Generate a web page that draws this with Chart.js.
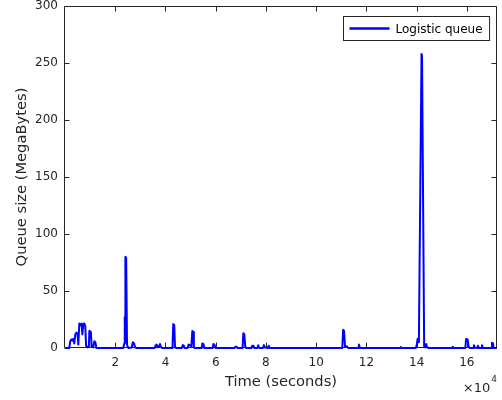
<!DOCTYPE html>
<html>
<head>
<meta charset="utf-8">
<script src="https://cdn.jsdelivr.net/npm/chart.js@4.4.1/dist/chart.umd.min.js"></script>
<style>
  html, body { margin: 0; padding: 0; background: #fff; }
  #wrap { width: 502px; height: 400px; position: relative; }
</style>
</head>
<body>
<div id="wrap"><canvas id="queue-chart"></canvas></div>
<script>
// Logistic queue size (MB) against time (s)
var timeSec = [
    0, 1700, 2100, 2500, 2900, 3300, 3700, 4100, 4600, 5000, 5300, 5700, 6200, 6600, 6900,
    7300, 7700, 8070, 8400, 9000, 9500, 9700, 10300, 10600, 11200, 11700, 12100, 12500,
    23200, 23600, 23800, 23900, 24050, 24350, 24700, 25200,
    26600, 27000, 27500, 27900, 28500,
    35700, 36000, 36500, 36900, 37400, 37800, 38300, 38800,
    42800, 43100, 43500, 43800, 44400,
    46500, 46900, 47300, 47700,
    48800, 49200, 49700, 50300, 50700, 51000, 51300, 51800,
    54400, 54700, 55100, 55500,
    58800, 59100, 59500, 59900,
    67500, 67800, 68300, 68700,
    70700, 71000, 71400, 71800, 72300,
    74200, 74600, 75000, 75400,
    76600, 76900, 77300,
    78800, 79200, 79600,
    80800, 81100, 81500,
    110400, 110750, 111100, 111500, 112200, 112700,
    116700, 117000, 117400,
    133400, 133700, 134000,
    139600, 140000, 140400, 140900, 141950, 142150, 143000, 143500, 143800, 144200, 144800,
    154100, 154400, 154800,
    159400, 159700, 160300, 160700, 161200,
    162500, 162800, 163200,
    164100, 164400, 164800,
    165700, 166000, 166400,
    169700, 170000, 170400, 170700, 172000
];
var queueMB = [
    0, 0, 6, 7.5, 6.5, 8, 4, 12, 13.5, 12, 3, 21.5, 20, 21.5, 12,
    21, 21.5, 19, 2, 0.5, 1, 15, 14, 1, 0.5, 6, 5, 0,
    0, 4, 27, 5, 80, 79, 3, 0,
    0.5, 5, 4, 0.5, 0,
    0, 2, 3, 0.5, 1, 3.5, 0.5, 0,
    0, 21, 20, 0.5, 0,
    0, 2.5, 2, 0,
    0, 3, 2.5, 1, 15, 14, 0.5, 0,
    0, 4, 3.5, 0,
    0, 3.5, 3, 0,
    0, 1, 1, 0,
    0, 13, 12, 0.5, 0,
    0, 2, 2, 0,
    0, 2.5, 0,
    0, 2.5, 0.5,
    0, 2, 0,
    0, 16, 15, 1, 1.5, 0,
    0, 3, 0,
    0, 0.8, 0,
    0, 2, 8, 5, 258, 256, 1, 0.5, 3.5, 0.5, 0,
    0, 1, 0,
    0, 8, 7.5, 1, 0,
    0, 2.5, 0.5,
    0, 2, 0,
    0, 2.5, 0,
    0, 4.5, 4, 0, 0
];
var xTicks = [20000, 40000, 60000, 80000, 100000, 120000, 140000, 160000];
var yTicks = [0, 50, 100, 150, 200, 250, 300];
var seriesName = "Logistic queue";

var axisColor = "#262626";
var fontFamily = "'DejaVu Sans', sans-serif";

var points = timeSec.map(function (t, i) {
    return { x: t, y: queueMB[i] };
});

// MATLAB-like box with inward ticks + legend + exponent label
var matlabAxes = {
    id: "matlabAxes",
    beforeDatasetsDraw: function (chart) {
        var ctx = chart.ctx, a = chart.chartArea;
        var xs = chart.scales.x, ys = chart.scales.y;
        var L = Math.round(a.left) - 0.5, R = Math.round(a.right) - 0.5;
        var T = Math.round(a.top) + 0.5, B = Math.round(a.bottom) - 0.5;
        var tl = 5;
        ctx.save();
        ctx.strokeStyle = axisColor;
        ctx.lineWidth = 1;
        ctx.beginPath();
        ctx.rect(L, T, R - L, B - T);
        xs.ticks.forEach(function (tk) {
            var px = Math.round(xs.getPixelForValue(tk.value)) + 0.5;
            ctx.moveTo(px, B); ctx.lineTo(px, B - tl);
            ctx.moveTo(px, T); ctx.lineTo(px, T + tl);
        });
        ys.ticks.forEach(function (tk) {
            var py = Math.round(ys.getPixelForValue(tk.value)) + 0.5;
            ctx.moveTo(L, py); ctx.lineTo(L + tl, py);
            ctx.moveTo(R, py); ctx.lineTo(R - tl, py);
        });
        ctx.stroke();
        ctx.restore();
    },
    afterDraw: function (chart) {
        var ctx = chart.ctx, a = chart.chartArea;
        var ds = chart.data.datasets[0];
        ctx.save();
        // legend
        ctx.font = "12px " + fontFamily;
        var tw = ctx.measureText(ds.label).width;
        var w = 6 + 40 + 6 + tw + 7, h = 24;
        var bx = Math.round(a.right - 8 - w) + 0.5, by = Math.round(a.top + 10) + 0.5;
        ctx.fillStyle = "#fff";
        ctx.fillRect(bx, by, w, h);
        ctx.strokeStyle = axisColor;
        ctx.lineWidth = 1;
        ctx.strokeRect(bx, by, w, h);
        ctx.strokeStyle = ds.borderColor;
        ctx.lineWidth = 2.5;
        ctx.beginPath();
        ctx.moveTo(bx + 6, by + h / 2);
        ctx.lineTo(bx + 46, by + h / 2);
        ctx.stroke();
        ctx.fillStyle = "#000";
        ctx.textBaseline = "middle";
        ctx.fillText(ds.label, bx + 52, by + h / 2 + 1);
        // x10^4 multiplier
        ctx.fillStyle = axisColor;
        ctx.textBaseline = "alphabetic";
        ctx.textAlign = "right";
        ctx.font = "9px " + fontFamily;
        ctx.fillText("4", a.right, 382);
        var sw = ctx.measureText("4").width;
        ctx.font = "13px " + fontFamily;
        ctx.fillText("\u00d710", a.right - sw - 1, 392);
        ctx.restore();
    }
};

var ctx1 = document.getElementById("queue-chart").getContext("2d");
new Chart(ctx1, {
    type: "line",
    data: {
        datasets: [{
            label: seriesName,
            data: points,
            borderColor: "#0000ff",
            backgroundColor: "#0000ff",
            borderWidth: 2,
            borderJoinStyle: "round",
            pointRadius: 0,
            tension: 0,
            fill: false,
            clip: false
        }]
    },
    options: {
        responsive: true,
        maintainAspectRatio: false,
        animation: false,
        layout: { padding: { left: 0, right: 5, top: 6, bottom: 0 } },
        plugins: {
            legend: { display: false },
            tooltip: { enabled: false }
        },
        scales: {
            x: {
                type: "linear",
                min: 0,
                max: 172000,
                grid: { display: false, drawTicks: false },
                border: { display: false },
                afterBuildTicks: function (scale) {
                    scale.ticks = xTicks.map(function (v) { return { value: v }; });
                },
                afterFit: function (scale) {
                    scale.height = 52;
                    scale.paddingLeft = 0;
                    scale.paddingRight = 0;
                },
                ticks: {
                    autoSkip: false,
                    maxRotation: 0,
                    padding: 8,
                    color: axisColor,
                    font: { family: fontFamily, size: 12 },
                    callback: function (v) { return v / 10000; }
                },
                title: {
                    display: true,
                    text: "Time (seconds)",
                    color: axisColor,
                    font: { family: fontFamily, size: 14.7 },
                    padding: { top: 4, bottom: 9 }
                }
            },
            y: {
                min: 0,
                max: 300,
                grid: { display: false, drawTicks: false },
                border: { display: false },
                afterBuildTicks: function (scale) {
                    scale.ticks = yTicks.map(function (v) { return { value: v }; });
                },
                afterFit: function (scale) {
                    scale.width = 65;
                    scale.paddingTop = 0;
                    scale.paddingBottom = 0;
                },
                ticks: {
                    padding: 7,
                    color: axisColor,
                    font: { family: fontFamily, size: 12 }
                },
                title: {
                    display: true,
                    text: "Queue size (MegaBytes)",
                    color: axisColor,
                    font: { family: fontFamily, size: 14.7 },
                    padding: { top: 13, bottom: 4 }
                }
            }
        }
    },
    plugins: [matlabAxes]
});
</script>
</body>
</html>
